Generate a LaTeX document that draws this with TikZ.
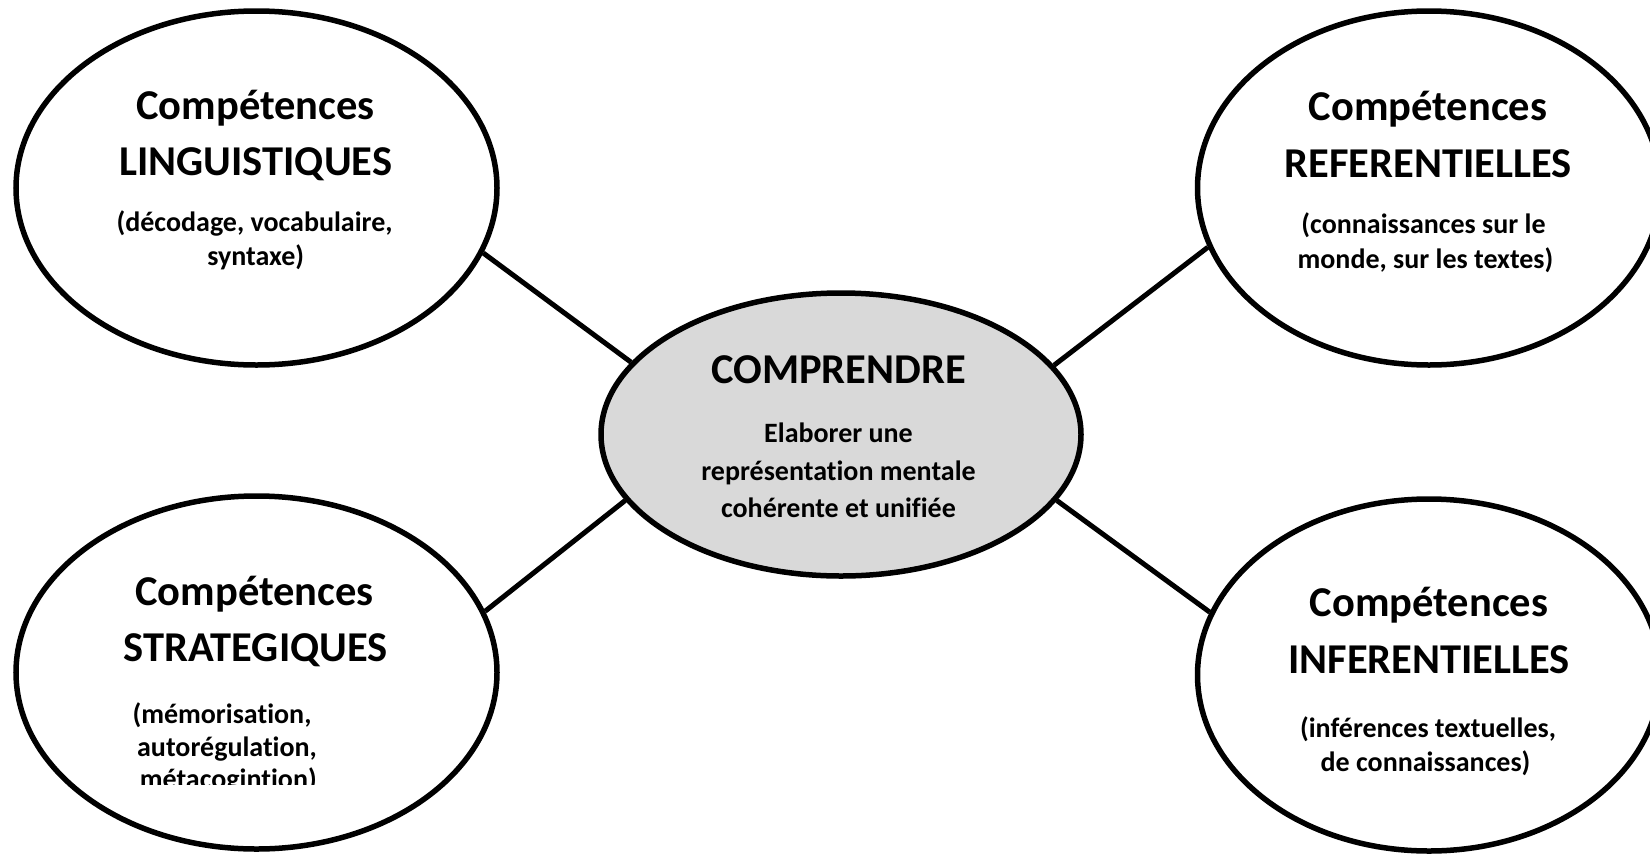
\documentclass[tikz,border=0pt]{standalone}
\usepackage{fontspec}
\setmainfont{Carlito}[Ligatures=NoCommon]
\usetikzlibrary{shapes.geometric}
\definecolor{cgrey}{HTML}{D9D9D9}
\begin{document}
\begin{tikzpicture}[x=1pt,y=-1pt,
  bubble/.style={ellipse,draw=black,line width=5.5pt,fill=white,inner sep=0pt},
  head/.style={font=\fontsize{42.5}{50}\selectfont\bfseries,anchor=base,inner sep=0pt},
  sub/.style={font=\fontsize{28}{34}\selectfont\bfseries,anchor=base,inner sep=0pt},
  link/.style={line width=5pt}]
\useasboundingbox (0,0) rectangle (1650,857);
\clip (0,0) rectangle (1650,857);
% ellipses
\node[bubble,minimum width=481pt,minimum height=354pt] (tl) at (256.5,188) {};
\node[bubble,minimum width=463pt,minimum height=354pt] (tr) at (1429,188) {};
\node[bubble,minimum width=481pt,minimum height=353pt] (bl) at (256.5,672.5) {};
\node[bubble,minimum width=463pt,minimum height=352pt] (br) at (1429,675) {};
\node[bubble,fill=cgrey,minimum width=480pt,minimum height=283pt] (c) at (841,434.5) {};
% connectors
\draw[link] (tl.-16) -- (c.161.9);
\draw[link] (c.18.1) -- (tr.195.8);
\draw[link] (bl.15.5) -- (c.197.1);
\draw[link] (c.-17.1) -- (br.164.6);
% texts
\node[head] (tlh1) at (255.7,119) {Compétences};
\node[head] (tlh2) at (255.7,175) {LINGUISTIQUES};
\node[sub] (tls1) at (254.6,231) {(décodage, vocabulaire,};
\node[sub] (tls2) at (255.7,265) {syntaxe)};
\node[head] (trh1) at (1428,120) {Compétences};
\node[head] (trh2) at (1428,177) {REFERENTIELLES};
\node[sub] (trs1) at (1423.5,233) {(connaissances sur le};
\node[sub] (trs2) at (1425.5,268) {monde, sur les textes)};
\node[head] (ch) at (838.5,383) {COMPRENDRE};
\node[sub] (cs1) at (838.5,442) {Elaborer une};
\node[sub] (cs2) at (838.5,480) {représentation mentale};
\node[sub] (cs3) at (838.5,517) {cohérente et unifiée};
\node[head] (blh1) at (254.6,605) {Compétences};
\node[head] (blh2) at (255.7,661) {STRATEGIQUES};
\node[sub] (bls1) at (222,723) {(mémorisation,};
\node[sub] (bls2) at (227,756) {autorégulation,};
\begin{scope}
\clip (0,0) rectangle (1650,784);
\node[sub] (bls3) at (228.3,788) {métacogintion)};
\end{scope}
\node[head] (brh1) at (1429,616) {Compétences};
\node[head] (brh2) at (1429,673) {INFERENTIELLES};
\node[sub] (brs1) at (1428,737) {(inférences textuelles,};
\node[sub] (brs2) at (1425.5,771) {de connaissances)};
\end{tikzpicture}
\end{document}
